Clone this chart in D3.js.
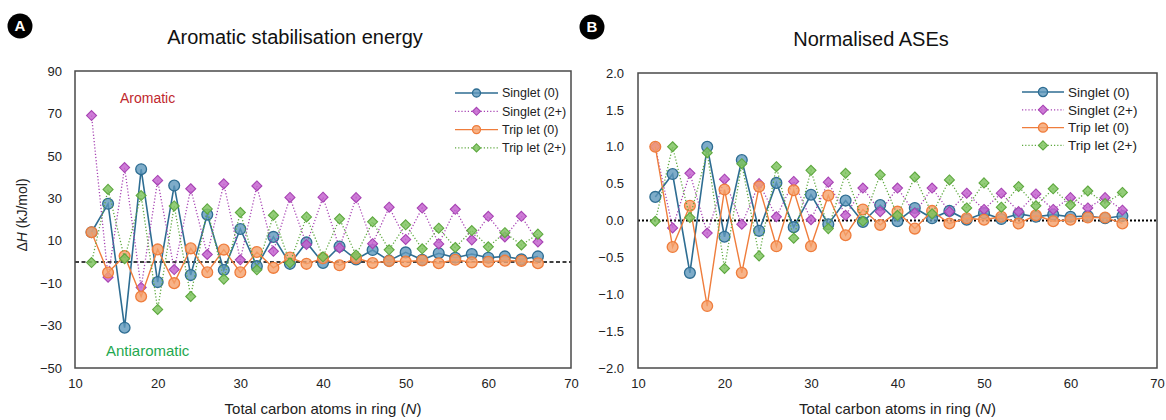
<!DOCTYPE html>
<html>
<head>
<meta charset="utf-8">
<script src="https://cdn.jsdelivr.net/npm/d3@7"></script>
<style>
  body { margin: 0; background: #fff; }
  svg { display: block; }
  text { font-family: "Liberation Sans", Arial, sans-serif; }
</style>
</head>
<body>
<svg id="fig" width="1166" height="420"></svg>
<script>
// Ring sizes (total carbon atoms N)
const ringSize = [12, 14, 16, 18, 20, 22, 24, 26, 28, 30, 32, 34, 36, 38,
                  40, 42, 44, 46, 48, 50, 52, 54, 56, 58, 60, 62, 64, 66];

// Aromatic stabilisation energies, kJ/mol
const aseSinglet0  = [14, 27.4, -31, 43.7, -9.5, 36, -6.2, 22.3, -3.8, 15.5, -2, 11.8, -0.9, 9.2,
                      -0.5, 7.3, 1.2, 5.6, 0.6, 4.5, 1.0, 4.1, 2.0, 3.7, 2.0, 2.6, 1.2, 2.6];
const aseSinglet2p = [69, -7.2, 44.5, -12, 38.4, -3.6, 34.5, 3.5, 36.8, 1, 35.8, 5, 30.4, 8.2,
                      30.5, 6.6, 30.3, 8.6, 25.8, 10.6, 25.4, 8.5, 24.8, 10.4, 21.5, 11.8, 21.5, 9.4];
const aseTriplet0  = [14, -5, 2.8, -16.3, 5.9, -10, 6.4, -4.9, 5.8, -4.9, 4.7, -2.8, 2.1, -0.9,
                      1.7, -1.6, 1.8, -0.5, 0.4, 0.2, 0.7, -0.6, 1.0, -0.2, 0.1, 0.6, 0.5, -0.6];
const aseTriplet2p = [-0.3, 34.2, 1.5, 31.3, -22.4, 26.4, -16.3, 25, -8.1, 23.3, -3.7, 22, -0.5, 21.2,
                      2.4, 20.3, 3.2, 18.9, 5.7, 17.5, 6.2, 15.9, 6.8, 14.8, 7.1, 13.8, 8.0, 13.1];

// Normalised ASEs (dimensionless)
const normSinglet0  = [0.32, 0.63, -0.71, 1.00, -0.22, 0.82, -0.14, 0.51, -0.09, 0.35, -0.05, 0.27, -0.02, 0.21,
                       -0.01, 0.17, 0.03, 0.13, 0.01, 0.10, 0.02, 0.09, 0.05, 0.08, 0.05, 0.06, 0.03, 0.06];
const normSinglet2p = [1.00, -0.10, 0.64, -0.17, 0.56, -0.05, 0.50, 0.05, 0.53, 0.01, 0.52, 0.07, 0.44, 0.12,
                       0.44, 0.10, 0.44, 0.12, 0.37, 0.15, 0.37, 0.12, 0.36, 0.15, 0.31, 0.17, 0.31, 0.14];
const normTriplet0  = [1.00, -0.36, 0.20, -1.16, 0.42, -0.71, 0.46, -0.35, 0.41, -0.35, 0.34, -0.20, 0.15, -0.06,
                       0.12, -0.11, 0.13, -0.04, 0.03, 0.01, 0.05, -0.04, 0.07, -0.01, 0.01, 0.04, 0.04, -0.04];
const normTriplet2p = [-0.01, 1.00, 0.04, 0.92, -0.65, 0.77, -0.48, 0.73, -0.24, 0.68, -0.11, 0.64, -0.01, 0.62,
                       0.07, 0.59, 0.09, 0.55, 0.17, 0.51, 0.18, 0.46, 0.20, 0.43, 0.21, 0.40, 0.23, 0.38];

const seriesNames = ["Singlet (0)", "Singlet (2+)", "Trip let (0)", "Trip let (2+)"];

// Axis ticks
const xTicks  = [10, 20, 30, 40, 50, 60, 70];
const yTicksA = [90, 70, 50, 30, 10, -10, -30, -50];
const yTicksB = [2.0, 1.5, 1.0, 0.5, 0.0, -0.5, -1.0, -1.5, -2.0];

// Series appearance
const styles = [
  { stroke: "#2e6d92", fill: "#5e97bb", dash: null,    marker: "circle",  width: 1.6 },
  { stroke: "#a743b3", fill: "#c464cf", dash: "1.2,2", marker: "diamond", width: 1.3 },
  { stroke: "#ef7d3c", fill: "#f5a06a", dash: null,    marker: "circle",  width: 1.4 },
  { stroke: "#5ea83f", fill: "#80c462", dash: "1.2,2", marker: "diamond", width: 1.3 }
];

const svg = d3.select("#fig");

function drawMarker(g, type, r, st) {
  if (type === "circle") {
    return g.append("circle").attr("r", r)
      .attr("fill", st.fill).attr("fill-opacity", 0.8)
      .attr("stroke", st.stroke).attr("stroke-width", 1.3);
  }
  return g.append("path")
    .attr("d", `M0,${-r}L${r},0L0,${r}L${-r},0Z`)
    .attr("fill", st.fill).attr("fill-opacity", 0.85)
    .attr("stroke", st.stroke).attr("stroke-width", 1.1);
}

function panel(cfg) {
  const x = d3.scaleLinear().domain([10, 70]).range([cfg.left, cfg.right]);
  const y = d3.scaleLinear().domain(cfg.yDomain).range([cfg.bottom, cfg.top]);
  const g = svg.append("g");

  // y tick labels
  const yAxis = d3.axisLeft(y).tickValues(cfg.yTicks).tickSize(0).tickPadding(cfg.yPad)
    .tickFormat(cfg.yFormat);
  g.append("g").attr("transform", `translate(${cfg.left},0)`).call(yAxis)
    .call(a => a.select(".domain").remove())
    .selectAll("text").attr("font-size", 13).attr("fill", "#222")
    .attr("font-family", "Liberation Sans, Arial, sans-serif");

  // x tick labels
  const xAxis = d3.axisBottom(x).tickValues(xTicks).tickSize(0).tickPadding(11)
    .tickFormat(d3.format("d"));
  g.append("g").attr("transform", `translate(0,${cfg.bottom})`).call(xAxis)
    .call(a => a.select(".domain").remove())
    .selectAll("text").attr("font-size", 13).attr("fill", "#222")
    .attr("font-family", "Liberation Sans, Arial, sans-serif");

  // zero reference line
  g.append("line")
    .attr("x1", cfg.left).attr("x2", cfg.right)
    .attr("y1", y(0)).attr("y2", y(0))
    .attr("stroke", "#000").attr("stroke-width", cfg.zeroWidth)
    .attr("stroke-dasharray", cfg.zeroDash);

  // series
  const line = d3.line().x(d => x(d[0])).y(d => y(d[1]));
  cfg.series.forEach((vals, i) => {
    const st = styles[i];
    const pts = ringSize.map((n, k) => [n, vals[k]]);
    g.append("path").datum(pts).attr("d", line)
      .attr("fill", "none").attr("stroke", st.stroke)
      .attr("stroke-width", st.width)
      .attr("stroke-dasharray", st.dash);
    pts.forEach(p => {
      const m = g.append("g").attr("transform", `translate(${x(p[0])},${y(p[1])})`);
      drawMarker(m, st.marker, st.marker === "circle" ? 5.4 : 5, st);
    });
  });

  // frame
  g.append("rect")
    .attr("x", cfg.left).attr("y", cfg.top)
    .attr("width", cfg.right - cfg.left).attr("height", cfg.bottom - cfg.top)
    .attr("fill", "none").attr("stroke", "#4a4a4a").attr("stroke-width", 1.5);

  // legend
  const lg = g.append("g");
  seriesNames.forEach((name, i) => {
    const st = styles[i];
    const ly = cfg.legend.y + i * cfg.legend.dy;
    lg.append("line")
      .attr("x1", cfg.legend.x).attr("x2", cfg.legend.x + cfg.legend.len)
      .attr("y1", ly).attr("y2", ly)
      .attr("stroke", st.stroke).attr("stroke-width", st.width)
      .attr("stroke-dasharray", st.dash);
    const m = lg.append("g").attr("transform", `translate(${cfg.legend.x + cfg.legend.len / 2},${ly})`);
    drawMarker(m, st.marker, cfg.legend.r, st);
    lg.append("text")
      .attr("x", cfg.legend.x + cfg.legend.len + 4).attr("y", ly)
      .attr("dy", "0.35em").attr("font-size", cfg.legend.font).attr("fill", "#222")
      .text(name);
  });

  // title
  g.append("text")
    .attr("x", cfg.titleX).attr("y", cfg.titleY)
    .attr("text-anchor", "middle").attr("font-size", 20).attr("fill", "#111")
    .text(cfg.title);

  // x axis title
  const xt = g.append("text")
    .attr("x", (cfg.left + cfg.right) / 2).attr("y", 414)
    .attr("text-anchor", "middle").attr("font-size", 15).attr("fill", "#222");
  xt.append("tspan").text("Total carbon atoms in ring (");
  xt.append("tspan").attr("font-style", "italic").text("N");
  xt.append("tspan").text(")");

  // panel badge
  svg.append("circle").attr("cx", cfg.badge[0]).attr("cy", cfg.badge[1]).attr("r", 12.5)
    .attr("fill", "#000");
  svg.append("text").attr("x", cfg.badge[0]).attr("y", cfg.badge[1])
    .attr("dy", "0.36em").attr("text-anchor", "middle")
    .attr("font-size", 15).attr("font-weight", "bold").attr("fill", "#fff")
    .text(cfg.badgeText);

  return { x, y, g };
}

const A = panel({
  left: 75, right: 571, top: 71, bottom: 368,
  yDomain: [-50, 90], yTicks: yTicksA, yFormat: d3.format("d"), yPad: 13,
  series: [aseSinglet0, aseSinglet2p, aseTriplet0, aseTriplet2p],
  zeroDash: "4,2.5", zeroWidth: 1.5,
  legend: { x: 455, y: 93, dy: 18.3, len: 43, r: 4, font: 12.5 },
  title: "Aromatic stabilisation energy", titleX: 295, titleY: 44,
  badge: [20, 26], badgeText: "A"
});

const B = panel({
  left: 638, right: 1157, top: 73, bottom: 368,
  yDomain: [-2, 2], yTicks: yTicksB, yFormat: d3.format(".1f"), yPad: 14,
  series: [normSinglet0, normSinglet2p, normTriplet0, normTriplet2p],
  zeroDash: "2,2", zeroWidth: 2.2,
  legend: { x: 1022, y: 92, dy: 17.8, len: 42, r: 4.6, font: 13.5 },
  title: "Normalised ASEs", titleX: 871, titleY: 46,
  badge: [592, 27], badgeText: "B"
});

// Panel A annotations
A.g.append("text").attr("x", 120).attr("y", 103)
  .attr("font-size", 14).attr("fill", "#c0282d").text("Aromatic");
A.g.append("text").attr("x", 106).attr("y", 356)
  .attr("font-size", 15).attr("fill", "#1fa84f").text("Antiaromatic");

// Panel A y-axis title
const yt = svg.append("text")
  .attr("transform", "translate(27,215) rotate(-90)")
  .attr("text-anchor", "middle").attr("font-size", 14).attr("fill", "#222");
yt.append("tspan").text("\u0394");
yt.append("tspan").attr("font-style", "italic").text("H");
yt.append("tspan").text(" (kJ/mol)");
</script>
</body>
</html>
